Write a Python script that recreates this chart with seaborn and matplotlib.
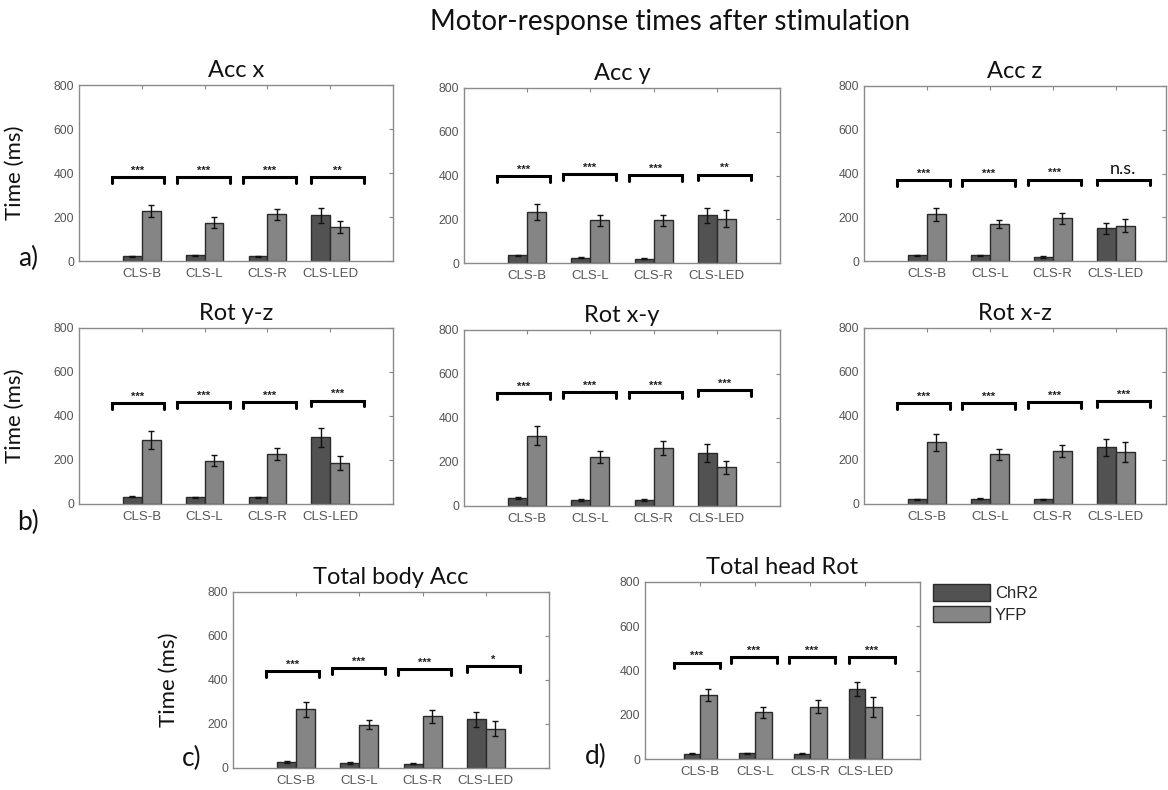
import numpy as np
import pandas as pd
import matplotlib
matplotlib.use("Agg")
import matplotlib.pyplot as plt
import seaborn as sns

# ---------------- data ----------------
categories = ["CLS-B", "CLS-L", "CLS-R", "CLS-LED"]
groups = ["ChR2", "YFP"]

acc_x_chr2 = [21, 26, 21, 208]
acc_x_chr2_err = [3, 3, 3, 34]
acc_x_yfp = [228, 175, 212, 155]
acc_x_yfp_err = [26, 27, 26, 26]
acc_x_bracket = [380, 380, 380, 380]
acc_x_sig = ["***", "***", "***", "**"]

acc_y_chr2 = [35, 24, 20, 219]
acc_y_chr2_err = [3, 3, 3, 34]
acc_y_yfp = [233, 195, 195, 203]
acc_y_yfp_err = [37, 26, 26, 38]
acc_y_bracket = [396, 405, 402, 404]
acc_y_sig = ["***", "***", "***", "**"]

acc_z_chr2 = [26, 26, 18, 149]
acc_z_chr2_err = [3, 3, 3, 24]
acc_z_yfp = [213, 171, 195, 162]
acc_z_yfp_err = [28, 18, 26, 28]
acc_z_bracket = [369, 371, 372, 372]
acc_z_sig = ["***", "***", "***", "n.s."]

rot_yz_chr2 = [33, 30, 30, 303]
rot_yz_chr2_err = [3, 3, 3, 43]
rot_yz_yfp = [291, 196, 226, 187]
rot_yz_yfp_err = [42, 25, 28, 32]
rot_yz_bracket = [458, 463, 463, 470]
rot_yz_sig = ["***", "***", "***", "***"]

rot_xy_chr2 = [35, 27, 27, 242]
rot_xy_chr2_err = [4, 3, 3, 41]
rot_xy_yfp = [320, 224, 265, 176]
rot_xy_yfp_err = [42, 27, 32, 30]
rot_xy_bracket = [512, 517, 517, 527]
rot_xy_sig = ["***", "***", "***", "***"]

rot_xz_chr2 = [21, 24, 21, 257]
rot_xz_chr2_err = [3, 3, 3, 40]
rot_xz_yfp = [280, 225, 240, 236]
rot_xz_yfp_err = [39, 25, 28, 44]
rot_xz_bracket = [457, 460, 463, 469]
rot_xz_sig = ["***", "***", "***", "***"]

body_chr2 = [27, 23, 20, 221]
body_chr2_err = [3, 3, 3, 34]
body_yfp = [267, 197, 235, 179]
body_yfp_err = [34, 21, 29, 34]
body_bracket = [439, 453, 448, 462]
body_sig = ["***", "***", "***", "*"]

head_chr2 = [24, 26, 24, 317]
head_chr2_err = [3, 3, 3, 30]
head_yfp = [291, 211, 237, 237]
head_yfp_err = [27, 26, 30, 45]
head_bracket = [436, 460, 460, 460]
head_sig = ["***", "***", "***", "***"]

yticks = [0, 200, 400, 600, 800]
fig_title = "Motor-response times after stimulation"
ylabel = "Time (ms)"

# ---------------- layout / style ----------------
W, H = 1168, 790
C_CHR2 = "#525252"
C_YFP = "#858585"
TITLE_FONT = "Lato"
TICK_FONT = "Liberation Sans"

panels = [
    # title, chr2, chr2_err, yfp, yfp_err, bracket, sig, rect(l,r,t,b), xmax, ylabel, letter
    ("Acc x", acc_x_chr2, acc_x_chr2_err, acc_x_yfp, acc_x_yfp_err, acc_x_bracket, acc_x_sig,
     (79, 393, 85, 261), 4.0, True, ("a)", 28, 258)),
    ("Acc y", acc_y_chr2, acc_y_chr2_err, acc_y_yfp, acc_y_yfp_err, acc_y_bracket, acc_y_sig,
     (464, 780, 88, 263), 4.0, False, None),
    ("Acc z", acc_z_chr2, acc_z_chr2_err, acc_z_yfp, acc_z_yfp_err, acc_z_bracket, acc_z_sig,
     (864, 1166, 86, 261), 3.8, False, None),
    ("Rot y-z", rot_yz_chr2, rot_yz_chr2_err, rot_yz_yfp, rot_yz_yfp_err, rot_yz_bracket, rot_yz_sig,
     (79, 393, 328, 504), 4.0, True, ("b)", 28, 522)),
    ("Rot x-y", rot_xy_chr2, rot_xy_chr2_err, rot_xy_yfp, rot_xy_yfp_err, rot_xy_bracket, rot_xy_sig,
     (464, 780, 330, 506), 4.0, False, None),
    ("Rot x-z", rot_xz_chr2, rot_xz_chr2_err, rot_xz_yfp, rot_xz_yfp_err, rot_xz_bracket, rot_xz_sig,
     (864, 1166, 328, 504), 3.8, False, None),
    ("Total body Acc", body_chr2, body_chr2_err, body_yfp, body_yfp_err, body_bracket, body_sig,
     (233, 549, 592, 768), 4.0, True, ("c)", 192, 758)),
    ("Total head Rot", head_chr2, head_chr2_err, head_yfp, head_yfp_err, head_bracket, head_sig,
     (645, 920, 582, 759), 4.0, False, ("d)", 596, 756)),
]

bracket_start = [-0.48, -0.44, -0.39, -0.30]
bracket_width = 0.84

sns.set_theme(style="white")
plt.rcParams["font.family"] = [TICK_FONT, "DejaVu Sans"]

fig = plt.figure(figsize=(W / 100, H / 100), dpi=100)
fig.patch.set_facecolor("white")

fig.text(670 / W, 1 - 22 / H, fig_title, ha="center", va="center",
         fontsize=20, family=TITLE_FONT, color="#111111")

legend_handles = None
for (title, chr2, chr2_err, yfp, yfp_err, bracket, sig, rect, xmax, has_ylabel, letter) in panels:
    l, r, t, b = rect
    ax = fig.add_axes([l / W, 1 - b / H, (r - l) / W, (b - t) / H])
    df = pd.DataFrame({
        "stimulus": categories * 2,
        "time": list(chr2) + list(yfp),
        "group": [groups[0]] * len(categories) + [groups[1]] * len(categories),
    })
    sns.barplot(data=df, x="stimulus", y="time", hue="group", order=categories,
                hue_order=groups, palette=[C_CHR2, C_YFP], width=0.6,
                errorbar=None, edgecolor="#2a2a2a", linewidth=1.0, ax=ax,
                legend=(legend_handles is None))
    if legend_handles is None:
        legend_handles, legend_labels = ax.get_legend_handles_labels()
        ax.get_legend().remove()
    xs = np.arange(len(categories))
    ax.errorbar(xs - 0.15, chr2, yerr=chr2_err, fmt="none", ecolor="#111111",
                elinewidth=1.0, capsize=2, capthick=1.0)
    ax.errorbar(xs + 0.15, yfp, yerr=yfp_err, fmt="none", ecolor="#111111",
                elinewidth=1.0, capsize=2, capthick=1.0)

    # significance brackets
    for i, (h, s) in enumerate(zip(bracket, sig)):
        x0 = i + bracket_start[i]
        x1 = x0 + bracket_width
        ax.plot([x0, x0, x1, x1], [h - 26, h, h, h - 26], color="black",
                lw=2.2, solid_joinstyle="miter", clip_on=False)
        if s == "n.s.":
            ax.text((x0 + x1) / 2, h + 10, s, ha="center", va="bottom",
                    fontsize=13, family=TITLE_FONT, color="#111111")
        else:
            ax.text((x0 + x1) / 2, h + 6, s, ha="center", va="bottom",
                    fontsize=8, fontweight="bold", color="#222222")

    ax.set_xlim(-1, xmax)
    ax.set_ylim(0, 800)
    ax.set_yticks(yticks)
    ax.set_yticklabels([str(v) for v in yticks])
    ax.set_xlabel("")
    ax.set_ylabel("")
    ax.tick_params(axis="both", direction="in", length=3, width=0.8,
                   color="#888888", labelcolor="#555555", labelsize=8.8,
                   top=True, right=True)
    ax.tick_params(axis="x", pad=5, labelsize=9.5)
    for lab in ax.get_xticklabels() + ax.get_yticklabels():
        lab.set_family(TICK_FONT)
    for sp in ax.spines.values():
        sp.set_color("#8a8a8a")
        sp.set_linewidth(1.0)
    ax.set_title(title, fontsize=17, family=TITLE_FONT, color="#111111", pad=6)
    if has_ylabel:
        ax.set_ylabel(ylabel, fontsize=16, family=TITLE_FONT, color="#111111")
        ax.yaxis.set_label_coords(-54 / (r - l), 0.5)
    if letter is not None:
        txt, lx, ly = letter
        fig.text(lx / W, 1 - ly / H, txt, ha="center", va="center",
                 fontsize=19, family=TITLE_FONT, color="#111111")

fig.legend(legend_handles, legend_labels, loc="upper left",
           bbox_to_anchor=(933 / W, 1 - 584 / H), bbox_transform=fig.transFigure,
           frameon=False, handlelength=3.4, handleheight=1.15,
           handletextpad=0.3, labelspacing=0.3, borderpad=0, borderaxespad=0,
           prop={"family": TICK_FONT, "size": 12})

fig.savefig("out.png", dpi=100, facecolor="white")
